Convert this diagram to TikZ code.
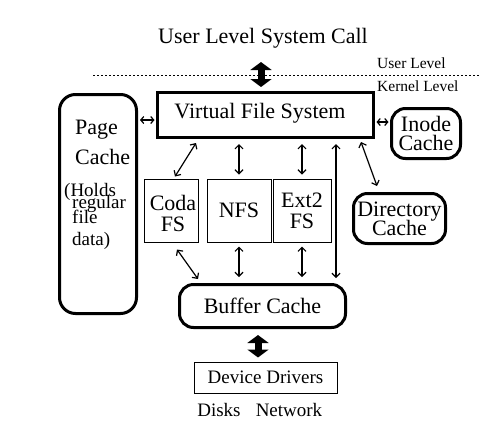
\documentclass[tikz,border=0pt]{standalone}
\usepackage{fontspec}
\setmainfont{Liberation Serif}
\usetikzlibrary{arrows.meta}
\begin{document}
\begin{tikzpicture}[x=1pt,y=-1pt,
  big/.style={font=\fontsize{22}{22}\selectfont},
  mid/.style={font=\fontsize{19}{19}\selectfont},
  small/.style={font=\fontsize{15.5}{15.5}\selectfont},
  thickbox/.style={draw,line width=3pt,inner sep=0pt},
  roundbox/.style={thickbox,rounded corners=14pt},
  thinbox/.style={draw,line width=1pt,inner sep=0pt},
  conn/.style={line width=1.2pt,{Straight Barb[length=4pt,width=8pt]}-{Straight Barb[length=4pt,width=8pt]}},
  shortconn/.style={line width=1.2pt,{Straight Barb[length=3pt,width=7pt]}-{Straight Barb[length=3pt,width=7pt]}},
  fat/.style={line width=7pt,{Triangle[length=8pt,width=21pt]}-{Triangle[length=8pt,width=21pt]}},
  txt/.style={inner sep=0pt,anchor=west}
]
\useasboundingbox (0,0) rectangle (496,424);
% title and level separator
\node[big] (title) at (263,38) {User Level System Call};
\coordinate (dl) at (93,75);
\coordinate (dr) at (480,75);
\draw[line width=0.8pt,dash pattern=on 2pt off 2pt] (dl) -- (dr);
\node[small,txt] (ul) at (377,63) {User Level};
\node[small,txt] (kl) at (377,86) {Kernel Level};
\coordinate (sc) at (261,62);
% boxes
\node[thickbox,minimum width=216pt,minimum height=45pt] (vfs) at (265.5,115) {};
\node[big,inner sep=0pt] (vfst) at (260,113) {Virtual File System};
\node[roundbox,rounded corners=16pt,minimum width=77pt,minimum height=219pt] (pc) at (98,204) {};
\node[big,txt] (pc1) at (75,130) {Page};
\node[big,txt] (pc2) at (75,157) {Cache};
\node[mid,txt] (pc3) at (64,192) {(Holds};
\node[mid,txt] (pc4) at (72,204) {regular};
\node[mid,txt] (pc5) at (72,217) {file};
\node[mid,txt] (pc6) at (72,241) {data)};
\node[roundbox,minimum width=69pt,minimum height=50pt,big,align=center] (inode) at (426,133.5) {Inode\\[-3pt]Cache};
\node[roundbox,minimum width=92pt,minimum height=50pt,big,align=center] (dir) at (399.5,218.5) {Directory\\[-3pt]Cache};
\node[thinbox,minimum width=54pt,minimum height=63pt] (coda) at (171,210.5) {};
\node[big,align=center,inner sep=0pt] (codat) at (173,213) {Coda\\[-1pt]FS};
\node[thinbox,minimum width=64pt,minimum height=63pt,big] (nfs) at (239,210.5) {NFS};
\node[thinbox,minimum width=58pt,minimum height=63pt,big,align=center] (ext) at (302,210.5) {Ext2\\[-1pt]FS};
\node[roundbox,minimum width=166pt,minimum height=43pt,big] (buf) at (262.5,306) {Buffer Cache};
\node[thinbox,minimum width=143pt,minimum height=31pt,mid] (dev) at (265.5,377.5) {Device Drivers};
\node[mid,inner sep=0pt] (disks) at (219,410) {Disks};
\node[mid,inner sep=0pt] (net) at (289,410) {Network};
% connectors
\draw[fat] (sc) -- ([xshift=-4.5pt,yshift=4pt]vfs.north);
\draw[shortconn] ([xshift=2pt,yshift=-5pt]pc.east |- vfs.west) -- ([xshift=-1.5pt,yshift=-5pt]vfs.west);
\draw[shortconn] ([xshift=1.5pt,yshift=-7pt]vfs.east) -- ([xshift=-1.5pt,yshift=-7pt]vfs.east -| inode.west);
\draw[conn] ([xshift=95.5pt,yshift=-3pt]vfs.south) -- ([xshift=-22.5pt,yshift=6pt]dir.north);
\draw[conn] ([xshift=-69.5pt,yshift=-4pt]vfs.south) -- ([xshift=4pt,yshift=2pt]coda.north);
\draw[conn] ([yshift=-5pt]vfs.south -| nfs.north) -- ([yshift=4pt]nfs.north);
\draw[conn] ([yshift=-5pt]vfs.south -| ext.north) -- ([yshift=4pt]ext.north);
\draw[conn] ([xshift=70.5pt,yshift=-5pt]vfs.south) -- ([xshift=70.5pt,yshift=5pt]vfs.south |- buf.north);
\draw[conn] ([xshift=6pt,yshift=-7pt]coda.south) -- ([xshift=-64.5pt,yshift=4pt]buf.north);
\draw[conn] ([yshift=-4pt]nfs.south) -- ([yshift=6pt]nfs.south |- buf.north);
\draw[conn] ([yshift=-4pt]ext.south) -- ([yshift=6pt]ext.south |- buf.north);
\draw[fat] ([xshift=-4.5pt,yshift=-6pt]buf.south) -- ([xshift=-7.5pt,yshift=4pt]dev.north);
\end{tikzpicture}
\end{document}
